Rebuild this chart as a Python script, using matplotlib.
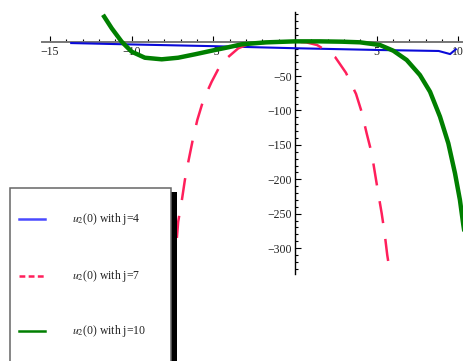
import matplotlib
matplotlib.use('Agg')
import matplotlib.pyplot as plt
from matplotlib.patches import Rectangle
from matplotlib.lines import Line2D

plt.rcParams['font.family'] = 'Liberation Serif'
plt.rcParams['mathtext.fontset'] = 'stix'
plt.rcParams['lines.scale_dashes'] = False

# --- data ---
x4 = [-13.7, -10, -5, 0, 5, 8.8, 9.5, 9.85]
y4 = [-2.0, -4.0, -6.5, -9.5, -12.0, -13.5, -18.0, -11.0]

x7 = [-7.6, -7.24, -7.15, -6.94, -6.74, -6.53, -6.26, -5.98, -5.61, -5.1, -4.49, -3.47, -3.0,
      -2.0, -1.0, 0.0, 0.7, 1.35, 1.86, 2.47, 3.12, 3.74, 4.08, 4.39, 4.7, 4.9, 5.1, 5.31,
      5.49, 5.65, 5.84]
y7 = [-340, -288.3, -261.7, -232.7, -201, -174.5, -142.9, -113.9, -84.8, -58.2, -30.5, -9.6, -5,
      -2, -0.5, 0, -1, -4.8, -12.1, -22.7, -45.1, -76, -101.8, -133.2, -162.3, -191.4, -220.4, -249.5,
      -278.5, -310, -339]

x10 = [-11.68, -11.22, -10.61, -10.0, -9.19, -8.16, -7.15, -6.12, -5.10, -4.08, -3.26, -1.8, 0,
       1.5, 2.88, 3.98, 5.2, 6.02, 6.84, 7.65, 8.27, 8.88, 9.39, 9.8, 10.1, 10.31, 10.6]
y10 = [36.4, 19.5, 0, -14.5, -23.3, -25.6, -23.3, -18.3, -13.1, -8.1, -3.8, -1, 0.5,
       0.5, 0, -0.9, -4.8, -13.1, -26.6, -48.4, -72.7, -109, -147.7, -191.4, -230, -266.5, -310]

labels = [r'$u_2$(0) with j=4', r'$u_2$(0) with j=7', r'$u_2$(0) with j=10']
xticks = [-15, -10, -5, 5, 10]
yticks = [-300, -250, -200, -150, -100, -50]

fig = plt.figure(figsize=(4.64, 3.61), dpi=100)
ax = fig.add_axes([0, 0, 1, 1])
ax.set_xlim(-18.06, 10.35)
ax.set_ylim(-464.1, 60.6)

ax.plot(x4, y4, color='#0a0ad8', lw=1.5, zorder=3)
ax.plot(x7, y7, color='#ff1f5b', lw=1.8, linestyle=(0, (16, 11.5)), zorder=3)
ax.plot(x10, y10, color='#007f00', lw=3.2, zorder=4, solid_joinstyle='round')

# axes through the origin
for s in ['top', 'right']:
    ax.spines[s].set_visible(False)
ax.spines['left'].set_position(('data', 0))
ax.spines['bottom'].set_position(('data', 0))
ax.spines['left'].set_bounds(-338, 43)
ax.spines['bottom'].set_bounds(-15.5, 10.5)
ax.spines['bottom'].set_color('#777777')
ax.spines['bottom'].set_linewidth(1.4)
ax.spines['left'].set_linewidth(1.0)

ax.set_xticks(xticks)
ax.set_xticklabels(['\u2212%d' % -t if t < 0 else str(t) for t in xticks])
ax.set_xticks([t for t in range(-15, 11) if t not in xticks and t != 0], minor=True)
ax.set_yticks(yticks)
ax.set_yticklabels(['\u2212%d' % -t for t in yticks])
ax.set_yticks([t for t in range(-330, 41, 10) if t not in yticks and t != 0], minor=True)
ax.tick_params(which='both', direction='in', width=0.8, labelsize=8.5, colors='black')
ax.tick_params(which='major', length=4)
ax.tick_params(which='minor', length=2.3)
ax.tick_params(axis='x', pad=3)
ax.tick_params(axis='y', pad=2)
for lab in ax.get_xticklabels() + ax.get_yticklabels():
    lab.set_color('#222222')

# legend box with shadow
W, H = 464.0, 361.0
def fx(px): return px / W
def fy(py): return 1 - py / H

fig.patches.append(Rectangle((fx(171), fy(362)), fx(177) - fx(171), fy(192) - fy(362),
                             transform=fig.transFigure, facecolor='black', edgecolor='none', zorder=10))
fig.patches.append(Rectangle((fx(10), fy(362)), fx(171) - fx(10), fy(187.5) - fy(362),
                             transform=fig.transFigure, facecolor='white', edgecolor='#666666',
                             lw=1.1, zorder=11))
leg_y = [219.3, 275.7, 331.0]
leg_c = ['#4a4aff', '#ff1f5b', '#007f00']
leg_ls = ['-', (0, (4.2, 2.4)), '-']
for yy, c, ls, lab in zip(leg_y, leg_c, leg_ls, labels):
    fig.add_artist(Line2D([fx(19), fx(45)], [fy(yy), fy(yy)], transform=fig.transFigure,
                          color=c, lw=1.8, linestyle=ls, zorder=12))
    fig.text(fx(72.5), fy(yy), lab, fontsize=8.5, va='center', ha='left', color='#222222', zorder=12)

fig.savefig('out.png', dpi=100)
